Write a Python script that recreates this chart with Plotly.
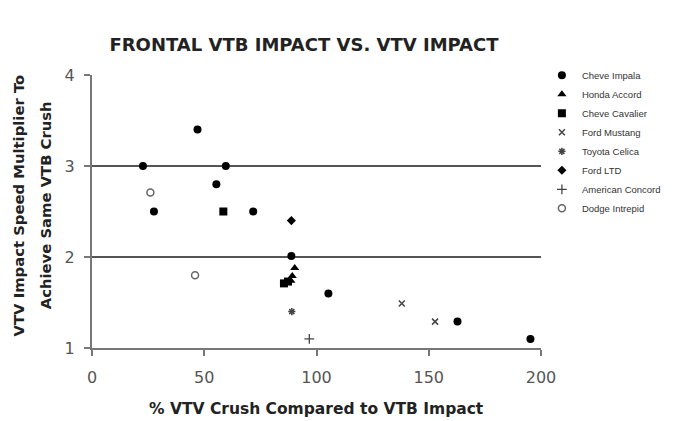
import plotly.graph_objects as go

# ---- data ----
series_names = ["Cheve Impala", "Honda Accord", "Cheve Cavalier", "Ford Mustang",
                "Toyota Celica", "Ford LTD", "American Concord", "Dodge Intrepid"]

impala_x = [47.0, 22.7, 59.6, 55.4, 27.6, 71.8, 88.8, 105.3, 162.8, 195.3]
impala_y = [3.40, 3.00, 3.00, 2.80, 2.50, 2.50, 2.01, 1.60, 1.29, 1.10]

accord_x = [90.3, 89.2, 88.6]
accord_y = [1.88, 1.79, 1.74]

cavalier_x = [58.5, 85.5, 87.3]
cavalier_y = [2.50, 1.71, 1.73]

mustang_x = [138.0, 152.8]
mustang_y = [1.49, 1.29]

celica_x = [89.0]
celica_y = [1.40]

ltd_x = [88.8]
ltd_y = [2.40]

concord_x = [96.8]
concord_y = [1.10]

intrepid_x = [26.0, 45.9]
intrepid_y = [2.71, 1.80]

x_ticks = [0, 50, 100, 150, 200]
y_ticks = [1, 2, 3, 4]

title_text = "FRONTAL VTB IMPACT VS. VTV IMPACT"
x_title = "% VTV Crush Compared to VTB Impact"
y_title_1 = "VTV Impact Speed Multiplier To"
y_title_2 = "Achieve Same VTB Crush"

FONT = "Arial, Liberation Sans, sans-serif"
BOLD_FONT = "DejaVu Sans, Verdana, sans-serif"

fig = go.Figure()

def add(name, xs, ys, symbol, size, color="black", line_color="black", line_width=0):
    fig.add_trace(go.Scatter(
        x=xs, y=ys, mode="markers", name=name,
        marker=dict(symbol=symbol, size=size, color=color,
                    line=dict(color=line_color, width=line_width)),
    ))

add(series_names[0], impala_x, impala_y, "circle", 8)
add(series_names[1], accord_x, accord_y, "triangle-up", 8)
add(series_names[2], cavalier_x, cavalier_y, "square", 8)
add(series_names[3], mustang_x, mustang_y, "x-thin", 6, line_color="#444", line_width=1.5)
add(series_names[4], celica_x, celica_y, "asterisk", 6, line_color="#444", line_width=1.5)
add(series_names[5], ltd_x, ltd_y, "diamond", 7)
add(series_names[6], concord_x, concord_y, "cross-thin", 7, line_color="#444", line_width=1.3)
add(series_names[7], intrepid_x, intrepid_y, "circle", 7, color="white", line_color="#666", line_width=1.5)

L, R, T, B = 92, 134, 75, 73
W, H = 678, 421
pw, ph = W - L - R, H - T - B

fig.update_layout(
    width=W, height=H,
    margin=dict(l=L, r=R, t=T, b=B),
    paper_bgcolor="white", plot_bgcolor="white",
    font=dict(family=FONT, color="#222"),
    title=dict(text="<b>" + title_text + "</b>",
               font=dict(family=BOLD_FONT, size=18, color="#222"),
               xref="container", x=304 / W, xanchor="center",
               yref="container", y=1 - 45 / H, yanchor="middle"),
    showlegend=True,
    legend=dict(x=1.002, xanchor="left", y=1.052, yanchor="top",
                font=dict(size=9.5, color="#333"), bgcolor="rgba(0,0,0,0)",
                tracegroupgap=0, itemsizing="trace"),
    xaxis=dict(range=[0, 200], tickvals=x_ticks, ticktext=[str(v) for v in x_ticks],
               showgrid=False, zeroline=False, showline=True, linecolor="#777", linewidth=2,
               ticks="outside", ticklen=6, tickcolor="#777", tickwidth=1.5,
               ticklabelstandoff=8,
               tickfont=dict(family=BOLD_FONT, size=16, color="#555")),
    yaxis=dict(range=[1, 4], tickvals=y_ticks, ticktext=[str(v) for v in y_ticks],
               showgrid=True, gridcolor="#555", gridwidth=1.5, zeroline=False,
               showline=True, linecolor="#777", linewidth=2,
               ticks="outside", ticklen=6, tickcolor="#777", tickwidth=1.5,
               ticklabelstandoff=6,
               tickfont=dict(family=BOLD_FONT, size=16, color="#555")),
    annotations=[
        dict(text="<b>" + x_title + "</b>", xref="paper", yref="paper",
             x=(318 - L) / pw, y=-(409 - (T + ph)) / ph, xanchor="center", yanchor="middle",
             showarrow=False, font=dict(family=BOLD_FONT, size=15.5, color="#222")),
        dict(text="<b>" + y_title_1 + "</b>", xref="paper", yref="paper",
             x=-(L - 18) / pw, y=(T + ph - 205) / ph, xanchor="center", yanchor="middle",
             textangle=-90, showarrow=False, font=dict(family=BOLD_FONT, size=14.8, color="#222")),
        dict(text="<b>" + y_title_2 + "</b>", xref="paper", yref="paper",
             x=-(L - 45) / pw, y=(T + ph - 205) / ph, xanchor="center", yanchor="middle",
             textangle=-90, showarrow=False, font=dict(family=BOLD_FONT, size=14.8, color="#222")),
    ],
)

fig.write_html("out.html", config={"displayModeBar": False},
               post_script="document.body.style.margin='0';")
